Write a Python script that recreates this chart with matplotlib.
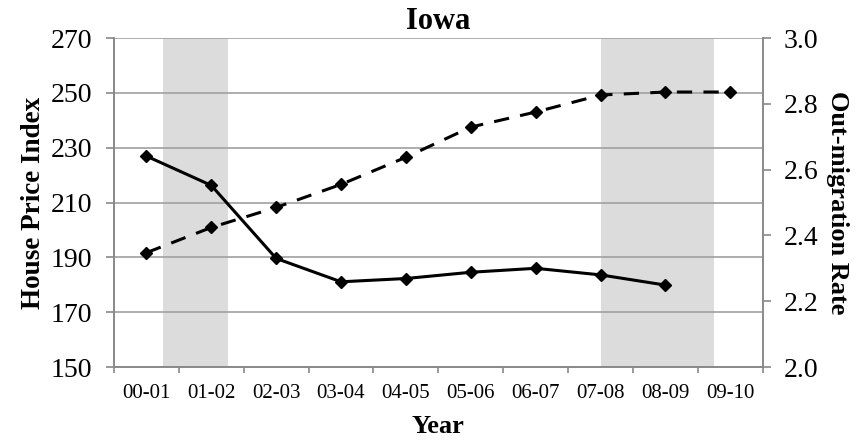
import numpy as np
import matplotlib.pyplot as plt

plt.rcParams['font.family'] = ['Liberation Serif', 'DejaVu Serif']

# Data
years = ['00-01', '01-02', '02-03', '03-04', '04-05', '05-06', '06-07', '07-08', '08-09', '09-10']
house_price = [191.7, 200.9, 208.2, 216.6, 226.5, 237.5, 243.0, 249.2, 250.3, 250.3]
outmigration = [2.641, 2.552, 2.330, 2.259, 2.269, 2.288, 2.300, 2.280, 2.249]
# recession bands, in category index units
recessions = [(0.25, 1.25), (7.0, 8.75)]

grey = '#898989'

fig = plt.figure(figsize=(8.67, 4.44), dpi=100)
ax = fig.add_axes([0.1315, 0.1734, 0.7482, 0.741])
ax2 = ax.twinx()

x = np.arange(len(years))

for a, b in recessions:
    ax.axvspan(a, b, color='#dcdcdc', lw=0, zorder=0)

ax.set_ylim(150, 270)
ax.set_yticks(np.arange(150, 271, 20))
ax.yaxis.grid(True, color='#a0a0a0', lw=1.2, zorder=1)
ax.set_axisbelow(True)
ax.set_xlim(-0.5, len(years) - 0.5)

ax.plot(x, house_price, color='black', lw=2.2, ls=(0, (5, 3.7)),
        marker='D', ms=6, zorder=3)
ax2.plot(x[:len(outmigration)], outmigration, color='black', lw=2.2,
         marker='D', ms=6, zorder=3)

ax2.set_ylim(2.0, 3.0)
ax2.set_yticks(np.arange(2.0, 3.01, 0.2))
ax2.set_yticklabels([f'{v:.1f}' for v in np.arange(2.0, 3.01, 0.2)])

ax.set_xticks(x)
ax.set_xticklabels(years, fontsize=15)
ax.set_xticks(np.arange(-0.5, len(years)), minor=True)
ax.tick_params(axis='x', which='major', length=0, pad=12)
ax.tick_params(axis='x', which='minor', length=4, color=grey, width=1.2)
ax.tick_params(axis='y', length=6, color=grey, width=1.2, labelsize=20, pad=10)
ax2.tick_params(axis='y', length=6, color=grey, width=1.2, labelsize=20, pad=9)

for a in (ax, ax2):
    for s in a.spines.values():
        s.set_color(grey)
        s.set_linewidth(1.2)
    a.spines['top'].set_visible(False)

ax.set_title('Iowa', fontsize=22, fontweight='bold', pad=6.5)
ax.set_xlabel('Year', fontsize=19, fontweight='bold', labelpad=9)
ax.set_ylabel('House Price Index', fontsize=19.5, fontweight='bold', labelpad=3)
ax2.set_ylabel('Out-migration Rate', fontsize=19, fontweight='bold',
               rotation=-90, labelpad=22)

fig.savefig('out.png', dpi=100)
